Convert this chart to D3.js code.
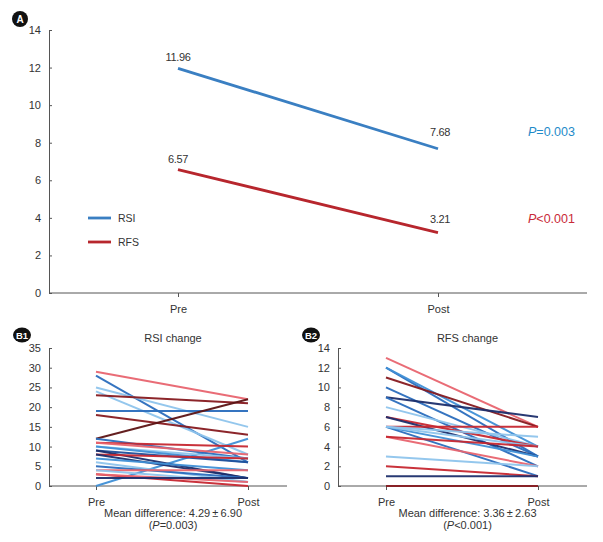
<!DOCTYPE html>
<html><head><meta charset="utf-8">
<script src="https://cdn.jsdelivr.net/npm/d3@7"></script>
<style>body{margin:0;background:#fff}svg{font-family:"Liberation Sans",Arial,sans-serif}</style>
</head><body>
<svg id="c" width="603" height="542"></svg>
<script>
// ---- data ----
const timepoints = ["Pre", "Post"];
const meanSeries = ["RSI", "RFS"];
const rsiMeans = [11.96, 7.68];
const rfsMeans = [6.57, 3.21];
const pLabels = ["=0.003", "<0.001"];
const ticksA = [0, 2, 4, 6, 8, 10, 12, 14];
const ticksB1 = [0, 5, 10, 15, 20, 25, 30, 35];
const ticksB2 = [0, 2, 4, 6, 8, 10, 12, 14];
// individual subjects: [pre, post, colour group]
const rsiPre  = [29, 28, 25, 24, 23, 19, 18, 12, 0, 12, 11, 11, 10, 10, 9, 9, 8, 8, 7, 6, 5, 4, 4, 3, 3, 2];
const rsiPost = [22, 6, 15, 8, 21, 19, 13, 22, 12, 7, 10, 8, 7, 6, 6, 2, 7, 2, 4, 1, 2, 4, 1, 0, 1, 2];
const rsiGrp  = ["lr","b","lb","lb","dr","b","dr","ddr","mb","b","r","lr","lb","mb","db","navy","r","navy","mb","lb","b","lr","lb","r","lr","navy"];
const rfsPre  = [13, 12, 12, 11, 10, 9, 9, 8, 7, 7, 6, 6, 6, 6, 6, 5, 5, 3, 2, 1, 0];
const rfsPost = [6, 3, 4, 6, 3, 7, 2, 4, 4, 3, 6, 5, 1, 3, 4, 2, 4, 2, 1, 1, 0];
const rfsGrp  = ["lr","b","mb","dr","b","navy","b","lb","r","navy","r","lb","b","mb","lb","lr","r","lb","r","navy","dr"];

const palette = {lr:"#e8646f", r:"#c62730", dr:"#86191f", ddr:"#5c1314",
  lb:"#8ec4ec", mb:"#3f8fd6", b:"#2a6dbd", db:"#1f4f9a", navy:"#1c2e6c"};

const svg = d3.select("#c");
const axisCol = "#555";
const txtCol = "#333";

function badge(cx, cy, label, rx, ry){
  svg.append("ellipse").attr("cx",cx).attr("cy",cy).attr("rx",rx).attr("ry",ry).attr("fill","#111");
  svg.append("text").attr("x",cx).attr("y",cy+3.5).attr("text-anchor","middle")
    .attr("font-size",label.length>1?9.5:10).attr("font-weight","bold").attr("fill","#fff").text(label);
}

function axes(y, ticks, xl, xr, xScale, fs){
  const ya = svg.append("g").attr("transform",`translate(${xl},0)`)
    .call(d3.axisLeft(y).tickValues(ticks).tickSizeInner(-3).tickSizeOuter(0).tickPadding(8));
  ya.selectAll("path,line").attr("stroke",axisCol);
  ya.selectAll("text").attr("font-size",fs).attr("fill",txtCol).attr("font-family","Liberation Sans, Arial, sans-serif");
  const y0 = y(0);
  svg.append("line").attr("x1",xl).attr("x2",xr).attr("y1",y0).attr("y2",y0).attr("stroke",axisCol);
  const xa = svg.append("g").attr("transform",`translate(0,${y0})`)
    .call(d3.axisBottom(xScale).tickSize(4).tickPadding(8));
  xa.select(".domain").remove();
  xa.selectAll("line").attr("stroke",axisCol);
  xa.selectAll("text").attr("font-size",fs).attr("fill",txtCol).attr("font-family","Liberation Sans, Arial, sans-serif");
}

// ---- Panel A ----
const xA = d3.scalePoint().domain(timepoints).range([178, 438]);
const yA = d3.scaleLinear().domain([0, 14]).range([293, 30]);
axes(yA, ticksA, 49, 587, xA, 11);
badge(20, 19, "A", 8, 8);
const line = d3.line().x((d,i)=>xA(timepoints[i])).y(d=>yA(d));
const meanData = [rsiMeans, rfsMeans];
const meanCols = ["#3a7fc2", "#b7262d"];
const pCols = ["#1f8bc9", "#c92a38"];
meanData.forEach((vals, k)=>{
  svg.append("path").attr("d", line(vals)).attr("fill","none")
    .attr("stroke", meanCols[k]).attr("stroke-width", 2.8);
  vals.forEach((v,i)=>{
    const off = (k===0 && i===1) ? 12.5 : (k===1 && i===1 ? 10 : 7);
    svg.append("text").attr("x", xA(timepoints[i]) + (i===1?2:0)).attr("y", yA(v) - off)
      .attr("text-anchor","middle").attr("font-size",11).attr("fill",txtCol)
      .attr("letter-spacing","-0.3").text(v.toFixed(2));
  });
  const pt = svg.append("text").attr("x", 528).attr("y", yA(vals[1]) + (k===0?-13:-10))
    .attr("font-size", 12.5).attr("fill", pCols[k]);
  pt.append("tspan").attr("font-style","italic").text("P");
  pt.append("tspan").text(pLabels[k]);
  // legend
  const ly = 218 + k*24;
  svg.append("line").attr("x1",88).attr("x2",111).attr("y1",ly).attr("y2",ly)
    .attr("stroke",meanCols[k]).attr("stroke-width",2.8);
  svg.append("text").attr("x",118).attr("y",ly+4).attr("font-size",10.5).attr("fill",txtCol).text(meanSeries[k]);
});

// ---- Panel B ----
function panelB(pre, post, grp, ticks, ymax, xl, xr, xp0, xp1, tag, title, mean, ptxt){
  const x = d3.scalePoint().domain(timepoints).range([xp0, xp1]);
  const y = d3.scaleLinear().domain([0, ymax]).range([486, 348]);
  axes(y, ticks, xl, xr, x, 11);
  const l = d3.line().x((d,i)=>x(timepoints[i])).y(d=>y(d));
  pre.forEach((p,i)=>{
    svg.append("path").attr("d", l([p, post[i]])).attr("fill","none")
      .attr("stroke", palette[grp[i]]).attr("stroke-width", 2).attr("opacity",0.95);
  });
  const cx = (xl + xr) / 2 + 5;
  svg.append("text").attr("x",cx).attr("y",342).attr("text-anchor","middle")
    .attr("font-size",11).attr("fill",txtCol).text(title);
  svg.append("text").attr("x",cx).attr("y",517).attr("text-anchor","middle")
    .attr("font-size",11).attr("fill",txtCol).text(mean);
  const t = svg.append("text").attr("x",cx).attr("y",529).attr("text-anchor","middle")
    .attr("font-size",11).attr("fill",txtCol);
  t.append("tspan").text("(");
  t.append("tspan").attr("font-style","italic").text("P");
  t.append("tspan").text(ptxt + ")");
  badge(xl - 27, 335, tag, 9, 7.5);
}
panelB(rsiPre, rsiPost, rsiGrp, ticksB1, 35, 49, 287, 96, 248, "B1", "RSI change",
  "Mean difference: 4.29\u2009\u00b1\u20096.90", "=0.003");
panelB(rfsPre, rfsPost, rfsGrp, ticksB2, 14, 338, 587, 386, 538, "B2", "RFS change",
  "Mean difference: 3.36\u2009\u00b1\u20092.63", "<0.001");
</script>
</body></html>
